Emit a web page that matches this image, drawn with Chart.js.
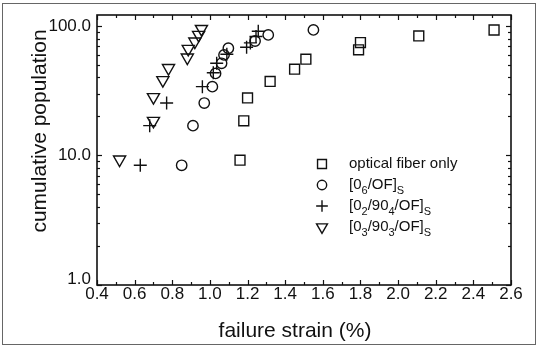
<!DOCTYPE html>
<html><head><meta charset="utf-8">
<script src="https://cdn.jsdelivr.net/npm/chart.js@4.4.1/dist/chart.umd.min.js"></script>
<style>html,body{margin:0;padding:0;background:#fff;} #wrap{position:relative;width:539px;height:346px;}</style>
</head><body><div id="wrap"><canvas id="c" width="539" height="346"></canvas></div>
<script>
// ---- data ----
const fiberX = [1.16, 1.18, 1.20, 1.32, 1.45, 1.51, 1.79, 1.80, 2.11, 2.51];
const fiberY = [9.2, 18.5, 27.8, 37.3, 46.4, 55.4, 65.4, 74.4, 83.8, 93.1];
const ply0X  = [0.85, 0.91, 0.97, 1.013, 1.03, 1.062, 1.075, 1.098, 1.24, 1.31, 1.55];
const ply0Y  = [8.4, 17.0, 25.4, 34.0, 43.0, 51.5, 59.8, 67.3, 76.5, 85.3, 93.2];
const ply24X = [0.63, 0.68, 0.77, 0.96, 1.018, 1.036, 1.09, 1.195, 1.215, 1.245, 1.257];
const ply24Y = [8.4, 17.0, 25.4, 34.0, 43.5, 51.5, 60.5, 68.5, 74.0, 83.0, 91.0];
const ply33X = [0.52, 0.70, 0.70, 0.75, 0.78, 0.88, 0.885, 0.92, 0.94, 0.955];
const ply33Y = [9.3, 18.5, 28.2, 38.2, 47.3, 57.0, 66.5, 75.8, 85.3, 94.8];
const seriesLabels = ['optical fiber only', '[0_6/OF]_S', '[0_2/90_4/OF]_S', '[0_3/90_3/OF]_S'];
const xMajorTicks = [0.4, 0.6, 0.8, 1.0, 1.2, 1.4, 1.6, 1.8, 2.0, 2.2, 2.4, 2.6];
const xMinorTicks = [0.5, 0.7, 0.9, 1.1, 1.3, 1.5, 1.7, 1.9, 2.1, 2.3, 2.5];
const yMajorTicks = [1, 10, 100];
const yMinorTicks = [2, 3, 4, 5, 6, 7, 8, 9, 20, 30, 40, 50, 60, 70, 80, 90];
const xTitle = 'failure strain (%)';
const yTitle = 'cumulative population';

const FONT = "'Liberation Sans', Arial, Helvetica, sans-serif";
const INK = '#111';
const pts = (xs, ys) => xs.map((x, i) => ({x, y: ys[i]}));
const styles = [
  {pointStyle: 'rect', rotation: 0, radius: 7},
  {pointStyle: 'circle', rotation: 0, radius: 5.2},
  {pointStyle: 'cross', rotation: 0, radius: 6.5},
  {pointStyle: 'triangle', rotation: 180, radius: 7}
];
const seriesData = [pts(fiberX, fiberY), pts(ply0X, ply0Y), pts(ply24X, ply24Y), pts(ply33X, ply33Y)];

const frameTicks = {
  id: 'frameTicks',
  beforeDraw(chart) {
    const c = chart.ctx;
    c.save();
    c.fillStyle = '#fff'; c.fillRect(0, 0, chart.width, chart.height);
    c.strokeStyle = '#666'; c.lineWidth = 1;
    c.strokeRect(2.5, 3.5, 533, 341);
    c.restore();
  },
  afterDatasetsDraw(chart) {
    const {ctx, chartArea: a, scales: {x, y}} = chart;
    ctx.save();
    ctx.strokeStyle = INK;
    ctx.lineWidth = 1.6;
    ctx.strokeRect(a.left, a.top, a.right - a.left, a.bottom - a.top);
    ctx.lineWidth = 1.2;
    const seg = (x1, y1, x2, y2) => { ctx.beginPath(); ctx.moveTo(x1, y1); ctx.lineTo(x2, y2); ctx.stroke(); };
    const xt = (list, len) => list.forEach(v => { const p = Math.round(x.getPixelForValue(v)) + 0.5; seg(p, a.bottom, p, a.bottom - len); seg(p, a.top, p, a.top + len); });
    const yt = (list, len) => list.forEach(v => { const p = Math.round(y.getPixelForValue(v)) + 0.5; seg(a.left, p, a.left + len, p); seg(a.right, p, a.right - len, p); });
    xt(xMajorTicks, 5); xt(xMinorTicks, 3);
    yt(yMajorTicks, 5); yt(yMinorTicks, 3);
    // axis titles
    ctx.fillStyle = INK;
    ctx.font = '21px ' + FONT;
    ctx.textAlign = 'center'; ctx.textBaseline = 'middle';
    ctx.fillText(xTitle, 295, 331);
    ctx.translate(40, 131);
    ctx.rotate(-Math.PI / 2);
    ctx.fillText(yTitle, 0, 0);
    ctx.restore();
  }
};

function drawRich(ctx, text, x, y) {
  let cx = x;
  for (let i = 0; i < text.length; i++) {
    let ch = text[i], sub = false;
    if (ch === '_' && i + 1 < text.length) { sub = true; ch = text[++i]; }
    ctx.font = (sub ? 11 : 15) + 'px ' + FONT;
    ctx.fillText(ch, cx, sub ? y + 6 : y);
    cx += ctx.measureText(ch).width;
  }
}

const richLegend = {
  id: 'richLegend',
  afterDraw(chart) {
    const ctx = chart.ctx;
    const rowsY = [164, 185, 206, 227];
    ctx.save();
    chart.data.datasets.forEach((ds, i) => {
      const st = styles[i];
      ctx.strokeStyle = INK; ctx.fillStyle = 'rgba(0,0,0,0)'; ctx.lineWidth = 1.4;
      Chart.helpers.drawPoint(ctx, {pointStyle: st.pointStyle, rotation: st.rotation, radius: st.radius * 0.9, borderWidth: 1.4}, 322, rowsY[i]);
      ctx.fillStyle = INK; ctx.textBaseline = 'middle'; ctx.textAlign = 'left';
      drawRich(ctx, ds.label, 349, rowsY[i]);
    });
    ctx.restore();
  }
};

new Chart(document.getElementById('c'), {
  type: 'scatter',
  data: {
    datasets: seriesData.map((d, i) => ({
      label: seriesLabels[i],
      data: d,
      pointStyle: styles[i].pointStyle,
      rotation: styles[i].rotation,
      pointRadius: styles[i].radius,
      pointHoverRadius: styles[i].radius,
      borderColor: INK,
      backgroundColor: 'rgba(0,0,0,0)',
      pointBorderWidth: 1.4,
      showLine: false
    }))
  },
  options: {
    responsive: false,
    animation: false,
    devicePixelRatio: 1,
    layout: {padding: {left: 0, right: 28, top: 15, bottom: 0}},
    plugins: {legend: {display: false}, tooltip: {enabled: false}},
    scales: {
      x: {
        type: 'linear', min: 0.4, max: 2.6,
        afterBuildTicks: s => { s.ticks = xMajorTicks.map(v => ({value: v})); },
        afterFit: s => { s.height = 61; },
        grid: {display: false, drawTicks: false},
        border: {display: false},
        ticks: {callback: v => Number(v).toFixed(1), font: {size: 17, family: FONT}, color: INK, padding: -1, maxRotation: 0, autoSkip: false},
        title: {display: false}
      },
      y: {
        type: 'logarithmic', min: 1, max: 121.5,
        afterBuildTicks: s => { s.ticks = yMajorTicks.map(v => ({value: v, major: true})); },
        afterFit: s => { s.width = 97; },
        grid: {display: false, drawTicks: false},
        border: {display: false},
        ticks: {
          callback: v => (v === 1 ? [Number(v).toFixed(1), ''] : Number(v).toFixed(1)),
          font: {size: 17, family: FONT, lineHeight: 0.72}, color: INK, padding: 6, autoSkip: false
        },
        title: {display: false}
      }
    }
  },
  plugins: [frameTicks, richLegend]
});
</script></body></html>
